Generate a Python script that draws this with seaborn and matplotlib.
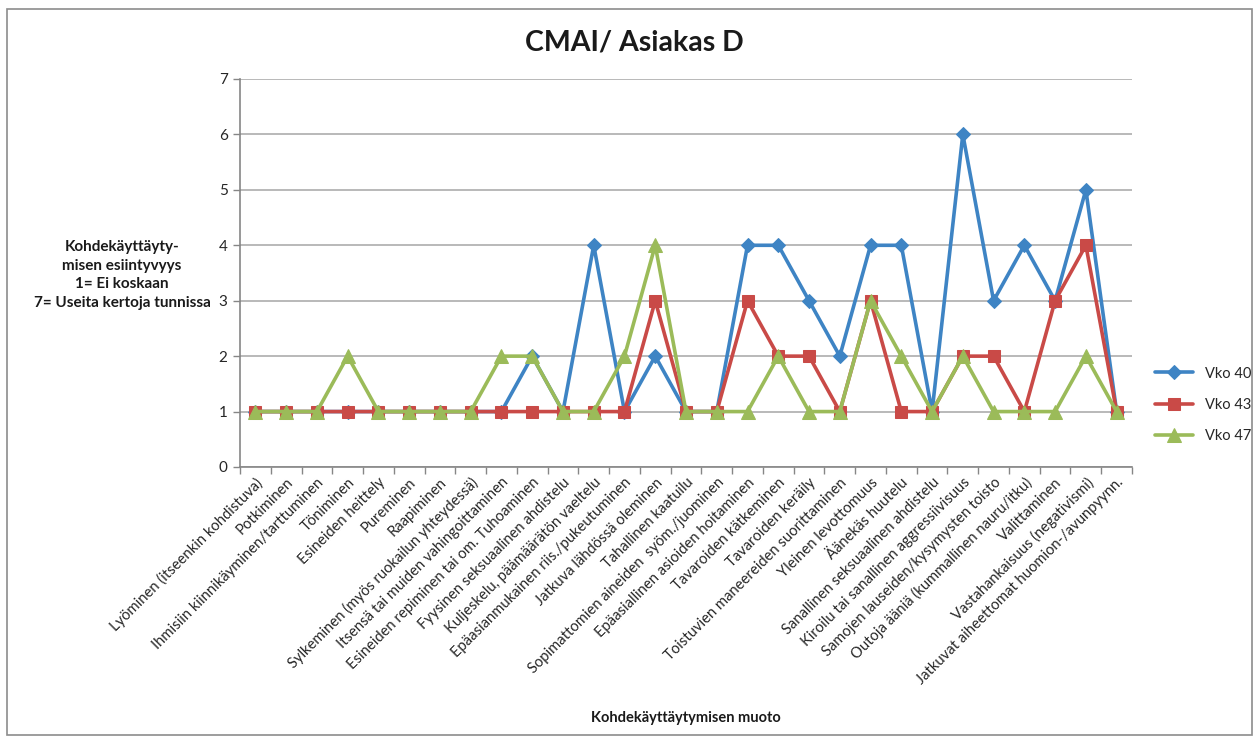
import matplotlib
matplotlib.use("Agg")
import matplotlib.pyplot as plt
from matplotlib.patches import Rectangle
from matplotlib.ticker import FixedLocator, NullFormatter
import seaborn as sns
import pandas as pd

categories = [
    "Lyöminen (itseenkin kohdistuva)",
    "Potkiminen",
    "Ihmisiin kiinnikäyminen/tarttuminen",
    "Töniminen",
    "Esineiden heittely",
    "Pureminen",
    "Raapiminen",
    "Sylkeminen (myös ruokailun yhteydessä)",
    "Itsensä tai muiden vahingoittaminen",
    "Esineiden repiminen tai om. Tuhoaminen",
    "Fyysinen seksuaalinen ahdistelu",
    "Kuljeskelu, päämäärätön vaeltelu",
    "Epäasianmukainen riis./pukeutuminen",
    "Jatkuva lähdössä oleminen",
    "Tahallinen kaatuilu",
    "Sopimattomien aineiden  syöm./juominen",
    "Epäasiallinen asioiden hoitaminen",
    "Tavaroiden kätkeminen",
    "Tavaroiden keräily",
    "Toistuvien maneereiden suorittaminen",
    "Yleinen levottomuus",
    "Äänekäs huutelu",
    "Sanallinen seksuaalinen ahdistelu",
    "Kiroilu tai sanallinen aggressiivisuus",
    "Samojen lauseiden/kysymysten toisto",
    "Outoja ääniä (kummallinen nauru/itku)",
    "Valittaminen",
    "Vastahankaisuus (negativismi)",
    "Jatkuvat aiheettomat huomion-/avunpyynn.",
]

vko40 = [1, 1, 1, 1, 1, 1, 1, 1, 1, 2, 1, 4, 1, 2, 1, 1, 4, 4, 3, 2, 4, 4, 1, 6, 3, 4, 3, 5, 1]
vko43 = [1, 1, 1, 1, 1, 1, 1, 1, 1, 1, 1, 1, 1, 3, 1, 1, 3, 2, 2, 1, 3, 1, 1, 2, 2, 1, 3, 4, 1]
vko47 = [1, 1, 1, 2, 1, 1, 1, 1, 2, 2, 1, 1, 2, 4, 1, 1, 1, 2, 1, 1, 3, 2, 1, 2, 1, 1, 1, 2, 1]

series_names = ["Vko 40", "Vko 43", "Vko 47"]

title = "CMAI/ Asiakas D"
ylabel = "Kohdekäyttäyty-\nmisen esiintyvyys\n1= Ei koskaan\n7= Useita kertoja tunnissa"
xlabel = "Kohdekäyttäytymisen muoto"

sns.set_style("white")
plt.rcParams["font.family"] = ["Lato", "DejaVu Sans"]

W, H = 1259, 742
fig = plt.figure(figsize=(W / 100, H / 100), dpi=100)
ax = fig.add_axes([240 / W, 1 - 467 / H, (1132 - 240) / W, (467 - 79) / H])

df = pd.DataFrame({
    "Kategoria": categories * 3,
    "Arvo": vko40 + vko43 + vko47,
    "Sarja": sum([[n] * len(categories) for n in series_names], []),
})

colors = ["#3E84C4", "#C94A47", "#9BBB59"]
markers = ["D", "s", "^"]
msizes = [7, 8, 10]

for name, col, mk, ms in zip(series_names, colors, markers, msizes):
    sub = df[df["Sarja"] == name]
    sns.lineplot(data=sub, x="Kategoria", y="Arvo", ax=ax, color=col,
                 marker=mk, markersize=ms, markeredgecolor=col,
                 linewidth=2.6, label=name, sort=False)

ax.set_xlim(-0.5, len(categories) - 0.5)
ax.set_ylim(0, 7)
ax.set_yticks(range(0, 8))
ax.yaxis.grid(True, color="#A6A6A6", linewidth=1.1)
ax.xaxis.grid(False)
ax.set_axisbelow(True)

ax.set_xticks(range(len(categories)))
ax.set_xticklabels(categories, rotation=45, ha="right", rotation_mode="anchor",
                   fontsize=10.6, color="#262626")
ax.tick_params(axis="x", which="major", length=0, pad=6)
ax.xaxis.set_minor_locator(FixedLocator([i - 0.5 for i in range(len(categories) + 1)]))
ax.xaxis.set_minor_formatter(NullFormatter())
ax.tick_params(axis="x", which="minor", length=5, color="#868686", width=1, bottom=True)
ax.tick_params(axis="y", length=5, color="#868686", width=1, left=True,
               labelsize=11, labelcolor="#262626", pad=4)

for s in ["top", "right"]:
    ax.spines[s].set_visible(False)
for s in ["left", "bottom"]:
    ax.spines[s].set_color("#868686")
    ax.spines[s].set_linewidth(1.2)

ax.set_xlabel("")
ax.set_ylabel("")

fig.text(634 / W, 1 - 43 / H, title, ha="center", va="center",
         fontsize=20.5, fontweight="bold", color="#1a1a1a")
fig.text(122 / W, 1 - 275 / H, ylabel,
         ha="center", va="center", fontsize=11, fontweight="bold",
         color="#1a1a1a", linespacing=1.4)
fig.text(686 / W, 1 - 718 / H, xlabel, ha="center", va="center",
         fontsize=10.5, fontweight="bold", color="#1a1a1a")

handles, labels = ax.get_legend_handles_labels()
ax.get_legend().remove()
fig.legend(handles, labels, loc="center left",
           bbox_to_anchor=(1142 / W, 1 - 405 / H), frameon=False,
           fontsize=10.5, handlelength=2.6, labelspacing=1.2)

fig.patches.append(Rectangle((7 / W, 1 - 735 / H), (1252 - 7) / W, (735 - 9) / H,
                             transform=fig.transFigure, fill=False,
                             edgecolor="#8C8C8C", linewidth=1.2))

fig.savefig("out.png", dpi=100)
